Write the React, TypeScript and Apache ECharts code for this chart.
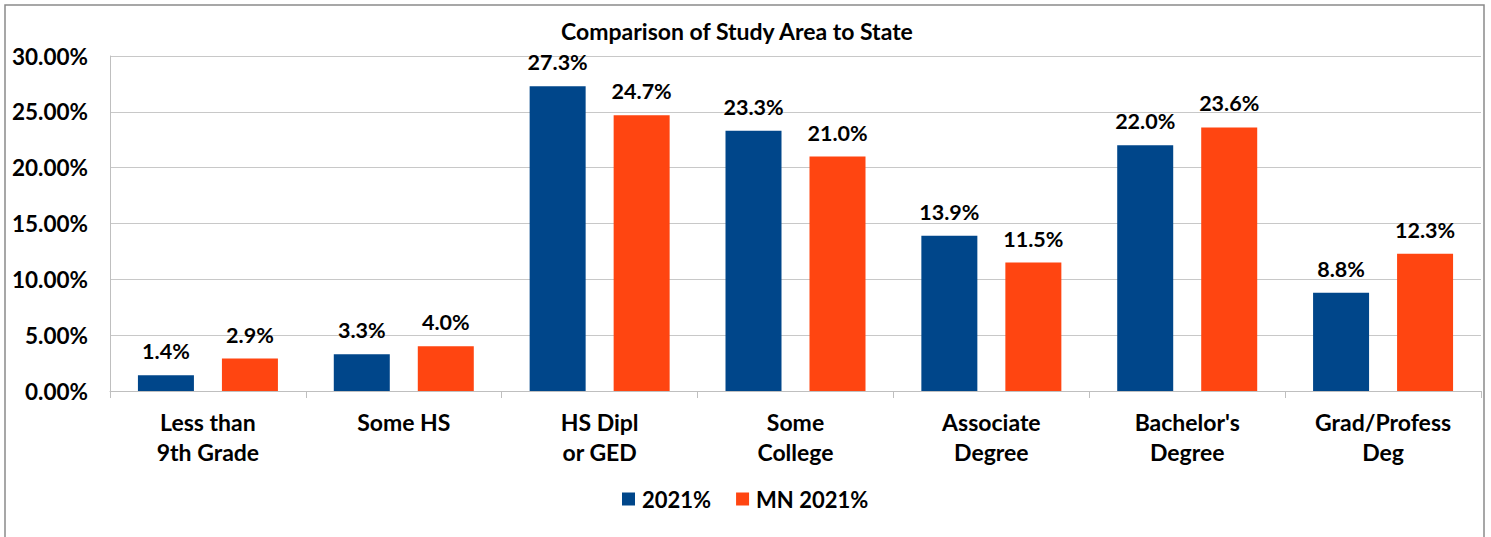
import React, { useEffect, useRef } from "react";
import * as echarts from "echarts";

const categories = [
  "Less than\n9th Grade",
  "Some HS",
  "HS Dipl\nor GED",
  "Some\nCollege",
  "Associate\nDegree",
  "Bachelor's\nDegree",
  "Grad/Profess\nDeg",
];
const studyArea2021 = [1.4, 3.3, 27.3, 23.3, 13.9, 22.0, 8.8];
const mn2021 = [2.9, 4.0, 24.7, 21.0, 11.5, 23.6, 12.3];
const seriesNames = ["2021%", "MN 2021%"];
const titleText = "Comparison of Study Area to State";

const FONT = "Lato, 'Open Sans', sans-serif";
const BLUE = "#00468A";
const ORANGE = "#FF4511";

export default function App() {
  const ref = useRef<HTMLDivElement>(null);
  useEffect(() => {
    if (!ref.current) return;
    const chart = echarts.init(ref.current, undefined, { renderer: "svg" });
    const labelStyle = {
      show: true,
      position: "top" as const,
      distance: 13,
      fontFamily: FONT,
      fontWeight: "bold" as const,
      fontSize: 21.5,
      color: "#000",
      formatter: (p: any) => Number(p.value).toFixed(1) + "%",
    };
    chart.setOption({
      animation: false,
      backgroundColor: "#fff",
      textStyle: { fontFamily: FONT },
      graphic: [
        {
          type: "rect",
          shape: { x: 5, y: 5, width: 1479, height: 545 },
          style: { fill: "none", stroke: "#8a8a8a", lineWidth: 1.5 },
          silent: true,
        },
        {
          type: "text",
          x: 737,
          y: 31,
          style: {
            text: titleText,
            fontFamily: FONT,
            fontWeight: "bold",
            fontSize: 23,
            fill: "#000",
            align: "center",
            verticalAlign: "middle",
          },
        },
      ],
      grid: { left: 110, top: 56, width: 1371, height: 335, containLabel: false },
      legend: {
        data: seriesNames,
        left: 622,
        top: 488,
        padding: 0,
        icon: "rect",
        itemWidth: 13,
        itemHeight: 13,
        itemGap: 25,
        textStyle: { fontFamily: FONT, fontWeight: "bold", fontSize: 22, color: "#000", padding: [0, 0, 0, 2] },
      },
      xAxis: {
        type: "category",
        data: categories,
        axisLine: { show: true, lineStyle: { color: "#BFBFBF", width: 1 } },
        axisTick: { show: true, length: 7, lineStyle: { color: "#BFBFBF" } },
        axisLabel: {
          interval: 0,
          margin: 16,
          fontFamily: FONT,
          fontWeight: "bold",
          fontSize: 23,
          lineHeight: 30,
          color: "#000",
        },
      },
      yAxis: {
        type: "value",
        min: 0,
        max: 30,
        interval: 5,
        axisLine: { show: true, lineStyle: { color: "#BFBFBF", width: 1 } },
        axisTick: { show: false },
        splitLine: { show: true, lineStyle: { color: "#C8C8C8", width: 1 } },
        axisLabel: {
          margin: 22,
          fontFamily: FONT,
          fontWeight: "bold",
          fontSize: 22.5,
          color: "#000",
          formatter: (v: number) => v.toFixed(2) + "%",
        },
      },
      series: [
        {
          name: seriesNames[0],
          type: "bar",
          data: studyArea2021,
          barWidth: 56,
          barGap: "50%",
          itemStyle: { color: BLUE },
          label: labelStyle,
        },
        {
          name: seriesNames[1],
          type: "bar",
          data: mn2021,
          barWidth: 56,
          barGap: "50%",
          itemStyle: { color: ORANGE },
          label: labelStyle,
        },
      ],
    });
    return () => chart.dispose();
  }, []);
  return (
    <div
      ref={ref}
      style={{ position: "fixed", left: 0, top: 0, width: 1491, height: 537 }}
    />
  );
}
